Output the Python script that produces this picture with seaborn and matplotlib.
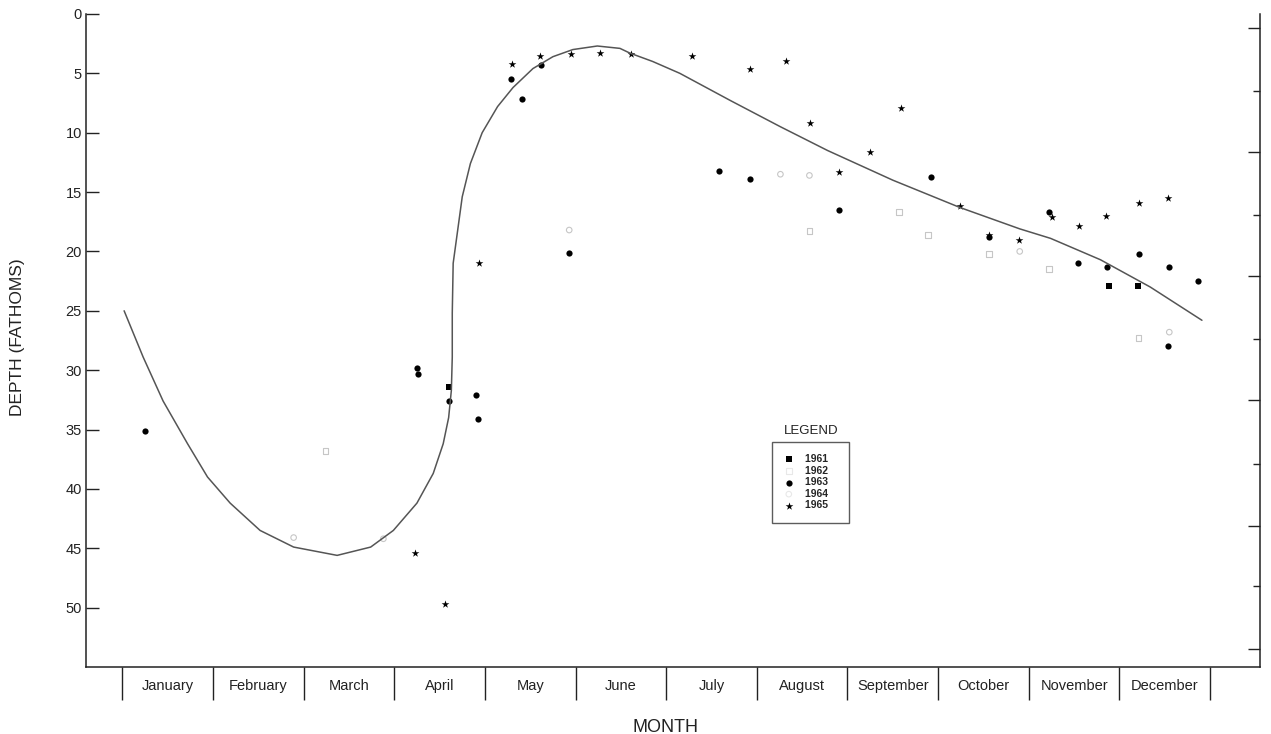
import numpy as np
import pandas as pd
import matplotlib.pyplot as plt
import seaborn as sns

# data: x = months elapsed since 1 January, y = depth in fathoms
months = ['January', 'February', 'March', 'April', 'May', 'June', 'July',
          'August', 'September', 'October', 'November', 'December']

m1961 = [3.60, 10.89, 11.21]
d1961 = [31.4, 22.9, 22.9]

m1962 = [2.24, 7.58, 8.57, 8.89, 9.56, 10.22, 11.21]
d1962 = [36.8, 18.3, 16.7, 18.6, 20.2, 21.5, 27.3]

m1963 = [0.25, 3.25, 3.26, 3.60, 3.90, 3.92, 4.29, 4.41, 4.62, 4.93, 6.58,
         6.93, 7.91, 8.92, 9.56, 10.22, 10.54, 10.86, 11.22, 11.55, 11.54,
         11.87]
d1963 = [35.1, 29.8, 30.3, 32.6, 32.1, 34.1, 5.5, 7.2, 4.3, 20.1, 13.2,
         13.9, 16.5, 13.7, 18.8, 16.7, 21.0, 21.3, 20.2, 21.3, 28.0, 22.5]

m1964 = [1.89, 2.88, 4.93, 7.26, 7.58, 9.90, 11.55]
d1964 = [44.1, 44.2, 18.2, 13.5, 13.6, 20.0, 26.8]

m1965 = [3.23, 3.56, 3.93, 4.30, 4.61, 4.95, 5.27, 5.61, 6.28, 6.92, 7.32,
         7.59, 7.91, 8.25, 8.59, 9.24, 9.56, 9.89, 10.26, 10.55, 10.85,
         11.22, 11.54]
d1965 = [45.4, 49.7, 21.0, 4.2, 3.5, 3.4, 3.3, 3.4, 3.5, 4.6, 4.0,
         9.2, 13.3, 11.6, 7.9, 16.2, 18.6, 19.0, 17.1, 17.9, 17.0,
         15.9, 15.5]

# hand-drawn trend curve
curve_m = [0.02, 0.23, 0.45, 0.72, 0.94, 1.19, 1.52, 1.89, 2.37, 2.74, 2.99,
           3.25, 3.43, 3.54, 3.60, 3.63, 3.64, 3.64, 3.65, 3.70, 3.75, 3.84,
           3.97, 4.14, 4.31, 4.53, 4.75, 4.97, 5.24, 5.49, 5.60, 5.85, 6.15,
           6.71, 7.26, 7.78, 8.50, 9.24, 9.90, 10.24, 10.79, 11.34, 11.91]
curve_d = [25.0, 28.9, 32.6, 36.2, 39.0, 41.2, 43.5, 44.9, 45.6, 44.9, 43.5,
           41.2, 38.7, 36.2, 34.0, 31.7, 28.9, 25.2, 21.0, 18.2, 15.4, 12.6,
           10.0, 7.8, 6.2, 4.6, 3.6, 3.0, 2.7, 2.9, 3.3, 4.0, 5.0,
           7.3, 9.5, 11.5, 14.0, 16.3, 18.1, 18.9, 20.7, 23.0, 25.8]

right_major = [1.2, 11.6, 22.1, 32.5, 43.1, 53.5]
right_minor = [6.5, 16.9, 27.4, 37.9, 48.2]

sns.set_style('white')
plt.rcParams['font.family'] = ['Liberation Sans', 'DejaVu Sans']

fig = plt.figure(figsize=(12.71, 7.34), dpi=100)
ax = fig.add_axes([0.0677, 0.0913, 0.9236, 0.8897])

sns.lineplot(x=curve_m, y=curve_d, sort=False, estimator=None,
             color='#555555', linewidth=1.1, solid_joinstyle='round', ax=ax)

faint = '#c6c6c6'
sns.scatterplot(x=m1961, y=d1961, marker='s', color='black', s=16,
                linewidth=0, edgecolor='black', label='1961   ', ax=ax)
sns.scatterplot(x=m1962, y=d1962, marker='s', color=faint, facecolor='none',
                edgecolor=faint, s=16, linewidth=0.8, label='1962   ', ax=ax)
sns.scatterplot(x=m1963, y=d1963, marker='o', color='black', s=20,
                linewidth=0, edgecolor='black', label='1963   ', ax=ax)
sns.scatterplot(x=m1964, y=d1964, marker='o', color=faint, facecolor='none',
                edgecolor=faint, s=16, linewidth=0.8, label='1964   ', ax=ax)
sns.scatterplot(x=m1965, y=d1965, marker='*', color='black', s=34,
                linewidth=0, edgecolor='black', label='1965   ', ax=ax)

ax.set_xlim(-0.40, 12.55)
ax.set_ylim(55, 0)

# y axis (left)
ax.set_yticks(range(0, 51, 5))
ax.tick_params(axis='y', left=True, direction='in', length=9, width=1, pad=3,
               labelsize=10.5, colors='#222222')

# month boxes along the bottom
ax.set_xticks(range(13))
ax.set_xticklabels([''] * 13)
ax.set_xticks(np.arange(0.5, 12, 1), minor=True)
ax.set_xticklabels(months, minor=True)
ax.tick_params(axis='x', which='major', bottom=True, direction='out',
               length=24, width=1, color='#222222')
ax.tick_params(axis='x', which='minor', bottom=True, length=0, pad=9,
               labelsize=10.5, labelcolor='#222222')

for side in ['top', 'right']:
    ax.spines[side].set_visible(False)
for side in ['left', 'bottom']:
    ax.spines[side].set_color('#222222')
    ax.spines[side].set_linewidth(1.1)

# right hand scale
twin = ax.twinx()
twin.set_ylim(55, 0)
twin.set_yticks(right_major)
twin.set_yticks(right_minor, minor=True)
twin.tick_params(axis='y', which='major', right=True, direction='in',
                 length=9, width=1, labelright=False, color='#222222')
twin.tick_params(axis='y', which='minor', right=True, direction='in',
                 length=5, width=1, labelright=False, color='#222222')
for side in ['top', 'left', 'bottom']:
    twin.spines[side].set_visible(False)
twin.spines['right'].set_color('#222222')
twin.spines['right'].set_linewidth(1.1)
twin.set_ylabel('')

ax.set_xlabel('')
ax.set_ylabel('')
fig.text(665 / 1271, 1 - 728 / 734, 'MONTH', ha='center', va='center',
         fontsize=13, color='#222222')
fig.text(18 / 1271, 1 - 337 / 734, 'DEPTH (FATHOMS)', ha='center',
         va='center', rotation=90, fontsize=12.5, color='#222222')

leg = ax.legend(loc='upper left', bbox_to_anchor=(0.584, 0.345),
                borderaxespad=0, frameon=True, fancybox=False,
                prop={'size': 7.5, 'weight': 'bold'}, handlelength=0.9,
                handletextpad=1.1, labelspacing=0.15, borderpad=1.2)
leg.get_frame().set_edgecolor('#333333')
leg.get_frame().set_linewidth(1.0)
# the open markers barely show in the printed legend
for h in leg.legend_handles[1::2]:
    h.set_edgecolor('#e8e8e8')
ax.text(0.618, 0.352, 'LEGEND', transform=ax.transAxes, ha='center',
        va='bottom', fontsize=9.5, color='#222222')

fig.savefig('out.png', dpi=100)
